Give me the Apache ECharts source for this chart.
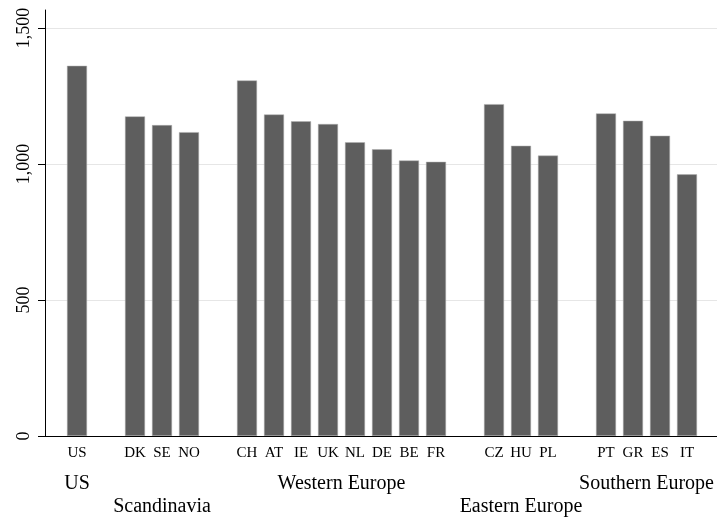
<!DOCTYPE html>
<html><head><meta charset="utf-8">
<script src="https://cdn.jsdelivr.net/npm/echarts@6/dist/echarts.min.js"></script>
<style>html,body{margin:0;padding:0;background:#fff}#c{width:717px;height:517px}</style>
</head><body><div id="c"></div>
<script>
// ---- data ----
const groupNames = ['US', 'Scandinavia', 'Western Europe', 'Eastern Europe', 'Southern Europe'];
const usCodes = ['US'];
const usValues = [1361];
const scCodes = ['DK', 'SE', 'NO'];
const scValues = [1175, 1143, 1117];
const weCodes = ['CH', 'AT', 'IE', 'UK', 'NL', 'DE', 'BE', 'FR'];
const weValues = [1307, 1182, 1157, 1147, 1080, 1054, 1013, 1008];
const eeCodes = ['CZ', 'HU', 'PL'];
const eeValues = [1220, 1067, 1031];
const soCodes = ['PT', 'GR', 'ES', 'IT'];
const soValues = [1186, 1159, 1104, 962];
const yTicks = [0, 500, 1000, 1500];

const groupCodes = [usCodes, scCodes, weCodes, eeCodes, soCodes];
const groupValues = [usValues, scValues, weValues, eeValues, soValues];

// ---- layout ----
const FONT = 'Liberation Serif';
const BAR = '#5e5e5e';
const plotTop = 28, plotBottom = 81, axisLeft = 45;
const slot = 27, groupGap = 31, firstLeft = 63.5;
const yMin = yTicks[0], yMax = yTicks[yTicks.length - 1], yStep = yTicks[1] - yTicks[0];

const grid = [
  { left: axisLeft, right: 0, top: plotTop, bottom: plotBottom, outerBoundsMode: 'none', containLabel: false },
  { left: axisLeft, right: 0, top: 10, bottom: plotBottom, outerBoundsMode: 'none', containLabel: false }
];
const xAxis = [
  { gridIndex: 0, type: 'value', show: false },
  { gridIndex: 1, type: 'value', min: 0, max: 1, z: 5,
    axisLine: { show: true, onZero: false, lineStyle: { color: '#000', width: 1 } },
    axisTick: { show: false }, axisLabel: { show: false }, splitLine: { show: false } }
];
const yAxis = [
  { gridIndex: 0, type: 'value', min: yMin, max: yMax, interval: yStep,
    axisLine: { show: false },
    axisTick: { show: true, length: 7, lineStyle: { color: '#000', width: 1 } },
    axisLabel: { rotate: 90, margin: 12, fontFamily: FONT, fontSize: 18, color: '#000',
      formatter: v => v.toLocaleString('en-US') },
    splitLine: { show: true, lineStyle: { color: '#e6e6e6', width: 1 } } },
  { gridIndex: 1, type: 'value', min: 0, max: 1, z: 5,
    axisLine: { show: true, lineStyle: { color: '#000', width: 1 } },
    axisTick: { show: false }, axisLabel: { show: false }, splitLine: { show: false } }
];
const series = [];
let before = 0;
groupNames.forEach((name, g) => {
  const n = groupCodes[g].length;
  const left = firstLeft + before * slot + g * groupGap;
  grid.push({ left: left, width: n * slot, top: plotTop, bottom: plotBottom, outerBoundsMode: 'none', containLabel: false });
  const gi = grid.length - 1;
  xAxis.push({
    gridIndex: gi, type: 'category', data: groupCodes[g],
    axisLine: { show: false }, axisTick: { show: false },
    axisLabel: { margin: 10, fontFamily: FONT, fontSize: 15, color: '#000', interval: 0 },
    name: name, nameLocation: 'middle', nameGap: (g % 2 === 0) ? 38 : 61,
    nameTextStyle: { fontFamily: FONT, fontSize: 20, color: '#000' }
  });
  yAxis.push({ gridIndex: gi, type: 'value', min: yMin, max: yMax, show: false });
  series.push({
    type: 'bar', xAxisIndex: xAxis.length - 1, yAxisIndex: yAxis.length - 1,
    data: groupValues[g], barWidth: 20, z: 2,
    itemStyle: { color: BAR, borderColor: '#b0b0b0', borderWidth: 0.5 },
    silent: true
  });
  before += n;
});

const chart = echarts.init(document.getElementById('c'), null, { renderer: 'canvas' });
chart.setOption({ animation: false, backgroundColor: '#fff', grid, xAxis, yAxis, series });
</script></body></html>
